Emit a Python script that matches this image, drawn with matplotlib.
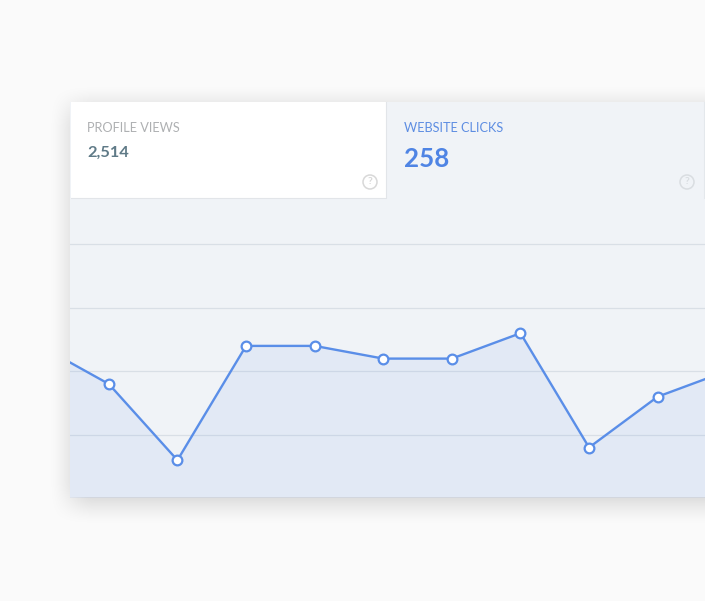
import numpy as np
import matplotlib.pyplot as plt
from matplotlib.patches import Rectangle, Circle

plt.rcParams['font.family'] = ['Lato', 'DejaVu Sans']

# Daily clicks, first and last points are cut off by the panel edges
days = [-1, 0, 1, 2, 3, 4, 5, 6, 7, 8, 9]
clicks = [24, 18, 6, 24, 24, 22, 22, 26, 8, 16, 20]
grid_values = [10, 20, 30, 40]
card_titles = ['PROFILE VIEWS', 'WEBSITE CLICKS']
card_values = ['2,514', '258']

blue = '#5a8ee8'

fig = plt.figure(figsize=(7.05, 6.01), dpi=100, facecolor='#fafafa')

# Background layer in pixel coordinates
bg = fig.add_axes([0, 0, 1, 1])
bg.axis('off')


def ramp(d, w=24):
    t = np.clip((d + w) / (2 * w), 0, 1)
    return t * t * (3 - 2 * t)


# Soft shadow round the panel
xx, yy = np.meshgrid(np.arange(705) + 0.5, np.arange(601) + 0.5)
shadow = np.zeros((601, 705, 4))
shadow[..., 3] = 0.17 * ramp(xx - 71) * ramp(yy - 107) * ramp(503 - yy)
bg.imshow(shadow, extent=(0, 705, 601, 0), interpolation='bilinear', zorder=1)
bg.set_xlim(0, 705)
bg.set_ylim(601, 0)
bg.set_aspect('auto')

bg.add_patch(Rectangle((70, 101.5), 635, 395.5, fc='#f0f3f7', ec='none', zorder=2))

# Cards
bg.add_patch(Rectangle((71, 101.5), 315, 96.5, fc='white', ec='none', zorder=3))
bg.plot([71, 386, 386], [198, 198, 101.5], color='#e2e5e9', lw=0.8, zorder=4)
bg.plot([703.5, 703.5], [101.5, 198], color='#e4e8ec', lw=0.8, zorder=4)

bg.text(87, 128, card_titles[0], fontsize=9.2, color='#aeb0b2', va='center', zorder=5)
bg.text(87, 153, card_values[0], fontsize=11.8, fontweight='bold', color='#5f7a87', va='center', zorder=5)
bg.text(404, 128, card_titles[1], fontsize=9.15, color='#5d8de2', va='center', zorder=5)
bg.text(404, 159, card_values[1], fontsize=18.6, fontweight='bold', color='#4f84e4', va='center', zorder=5)

# Help icons
for cx, col in [(370, '#d8d8d8'), (687, '#d9dde1')]:
    bg.add_patch(Circle((cx, 182), 7, fc='none', ec=col, lw=1.1, zorder=5))
    bg.text(cx, 182, '?', fontsize=7.5, fontweight='bold', color=col, ha='center', va='center', zorder=5)

# Chart layer
ax = fig.add_axes([70 / 705, 1 - 497 / 601, 635 / 705, 299 / 601])
ax.patch.set_alpha(0)
ax.set_xlim(-0.566, 8.69)
ax.set_ylim(0.205, 47.29)
ax.axis('off')

for v in grid_values:
    ax.axhline(v, color='#d9dfe6', lw=0.9, zorder=1)

ax.fill_between(days, clicks, 0, color=blue, alpha=0.09, lw=0, zorder=2)
ax.plot(days, clicks, color=blue, lw=1.7, zorder=3)
ax.plot(days[1:-1], clicks[1:-1], ls='none', marker='o', ms=7, mfc='white', mec=blue, mew=1.6, zorder=4)

fig.savefig('out.png', dpi=100, facecolor=fig.get_facecolor())
